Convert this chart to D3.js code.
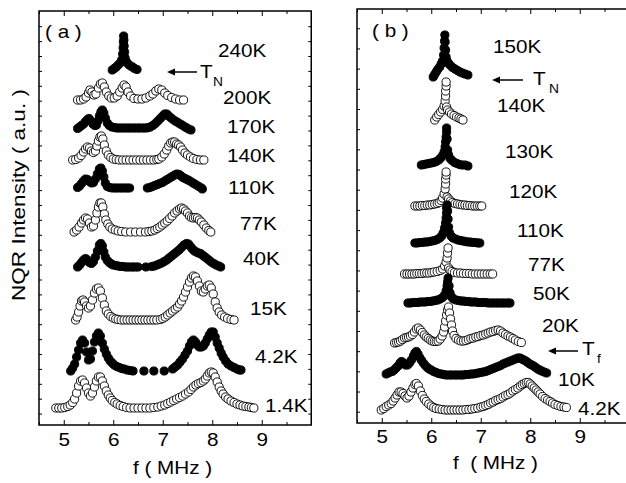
<!DOCTYPE html>
<html>
<head>
<meta charset="utf-8">
<script src="https://d3js.org/d3.v7.min.js"></script>
<style>
  body { margin: 0; background: #fff; }
  text { font-family: "Liberation Sans", Arial, Helvetica, sans-serif; }
</style>
</head>
<body>
<script>
// x tick labels (MHz)
var fTicks = [5, 6, 7, 8, 9];
var fMinor = [4.5, 5.5, 6.5, 7.5, 8.5, 9.5];

// ---- panel (a) spectra: [f (MHz), intensity above its own baseline (a.u.)]
var a240K = [[5.98,0],[6.02,0.15],[6.06,0.3],[6.10,0.5],[6.14,0.7],[6.17,1.0],[6.19,1.6],[6.20,2.2],[6.205,2.8],[6.21,3.4],[6.215,3.0],[6.22,2.4],[6.23,1.8],[6.24,1.2],[6.27,0.8],[6.31,0.55],[6.35,0.4],[6.39,0.3],[6.43,0.15],[6.48,0.05]];
var a200K = [[5.28,0],[5.34,0],[5.40,0.1],[5.45,0.3],[5.50,0.7],[5.53,1.0],[5.57,0.8],[5.61,0.5],[5.65,0.6],[5.70,1.2],[5.74,1.6],[5.78,1.7],[5.82,1.3],[5.86,0.8],[5.91,0.4],[5.96,0.2],[6.02,0.2],[6.08,0.4],[6.13,0.8],[6.18,1.2],[6.22,1.5],[6.26,1.3],[6.30,0.8],[6.35,0.4],[6.42,0.15],[6.50,0.1],[6.58,0.1],[6.66,0.2],[6.74,0.4],[6.80,0.6],[6.86,0.9],[6.92,1.1],[6.98,1.0],[7.04,0.7],[7.10,0.45],[7.18,0.25],[7.26,0.1],[7.34,0],[7.42,0]];
var a170K = [[5.28,0.05],[5.32,0.2],[5.36,0.35],[5.40,0.5],[5.44,0.75],[5.48,0.95],[5.51,1.05],[5.55,0.8],[5.59,0.5],[5.63,0.35],[5.66,0.4],[5.69,0.8],[5.72,1.3],[5.75,1.7],[5.78,1.9],[5.81,1.6],[5.84,1.1],[5.88,0.6],[5.92,0.35],[5.97,0.2],[6.02,0.15],[6.07,0.1],[6.12,0.1],[6.17,0.1],[6.22,0.1],[6.27,0.1],[6.32,0.1],[6.37,0.1],[6.42,0.1],[6.47,0.1],[6.52,0.1],[6.57,0.1],[6.62,0.1],[6.67,0.1],[6.71,0.15],[6.75,0.2],[6.80,0.35],[6.85,0.55],[6.90,0.8],[6.95,1.05],[7.00,1.3],[7.04,1.5],[7.08,1.5],[7.12,1.3],[7.17,1.1],[7.22,0.9],[7.27,0.75],[7.32,0.6],[7.37,0.45],[7.42,0.3],[7.47,0.15],[7.52,0],[7.57,-0.1]];
var a140K = [[5.18,0],[5.24,0.05],[5.30,0.2],[5.35,0.45],[5.40,0.8],[5.44,1.1],[5.48,1.3],[5.52,1.2],[5.56,0.9],[5.60,0.75],[5.64,0.9],[5.67,1.4],[5.70,1.9],[5.73,2.3],[5.76,2.4],[5.79,2.1],[5.82,1.5],[5.86,0.9],[5.90,0.5],[5.95,0.25],[6.00,0.1],[6.06,0.05],[6.12,0],[6.19,0],[6.26,0],[6.33,0],[6.40,0],[6.47,0],[6.54,0],[6.61,0],[6.68,0],[6.75,0],[6.82,0],[6.88,0.05],[6.92,0.1],[6.98,0.3],[7.03,0.6],[7.08,1.0],[7.12,1.4],[7.16,1.7],[7.20,1.8],[7.24,1.8],[7.28,1.6],[7.32,1.5],[7.36,1.3],[7.40,1.0],[7.45,0.7],[7.50,0.5],[7.56,0.3],[7.62,0.15],[7.69,0.05],[7.76,0],[7.83,0]];
var a110K = [[5.28,0.05],[5.32,0.2],[5.36,0.45],[5.40,0.7],[5.44,0.9],[5.48,0.85],[5.52,0.65],[5.56,0.5],[5.60,0.55],[5.64,0.9],[5.68,1.4],[5.72,1.9],[5.75,2.0],[5.78,1.7],[5.81,1.1],[5.84,0.5],[5.88,0.15],[5.93,0.05],[5.98,0],[6.03,0],[6.08,0],[6.13,0],[6.18,0],[6.23,0],[6.28,0],[6.33,0],
  [6.69,0],[6.74,0.05],[6.79,0.15],[6.84,0.25],[6.89,0.35],[6.94,0.45],[6.99,0.55],[7.04,0.7],[7.09,0.85],[7.14,1.0],[7.19,1.15],[7.24,1.3],[7.29,1.4],[7.33,1.35],[7.37,1.2],[7.41,1.05],[7.45,0.95],[7.49,0.85],[7.53,0.75],[7.58,0.6],[7.63,0.45],[7.68,0.3],[7.73,0.15],[7.78,0],[7.80,-0.1]];
var a77K = [[5.21,0],[5.26,0.2],[5.31,0.5],[5.36,0.9],[5.40,1.2],[5.44,1.4],[5.48,1.3],[5.52,0.9],[5.56,0.5],[5.60,0.6],[5.64,1.2],[5.67,1.9],[5.70,2.5],[5.73,2.9],[5.76,2.9],[5.79,2.5],[5.82,1.8],[5.85,1.2],[5.89,0.8],[5.93,0.5],[5.98,0.3],[6.04,0.2],[6.10,0.1],[6.17,0.05],[6.25,0],[6.35,0],[6.45,0],[6.55,0],[6.65,0],[6.72,0.05],[6.78,0.1],[6.84,0.2],[6.89,0.35],[6.94,0.5],[6.99,0.7],[7.04,0.9],[7.09,1.1],[7.14,1.35],[7.19,1.6],[7.24,1.9],[7.29,2.1],[7.34,2.3],[7.38,2.4],[7.42,2.3],[7.46,2.1],[7.50,1.9],[7.54,1.6],[7.58,1.45],[7.62,1.4],[7.66,1.45],[7.70,1.4],[7.74,1.2],[7.78,1.0],[7.83,0.7],[7.88,0.4],[7.93,0.15],[7.97,0]];
var a40K = [[5.28,0],[5.32,0.2],[5.36,0.45],[5.40,0.7],[5.44,0.85],[5.48,0.7],[5.52,0.45],[5.56,0.35],[5.60,0.55],[5.64,1.0],[5.68,1.6],[5.72,2.2],[5.75,2.35],[5.78,2.1],[5.81,1.5],[5.84,1.0],[5.88,0.65],[5.92,0.45],[5.96,0.3],[6.00,0.2],[6.05,0.15],[6.10,0.1],[6.15,0.05],[6.20,0.05],[6.25,0],[6.30,0],[6.35,0],[6.40,0],[6.45,0],[6.50,0],[6.66,0],[6.78,0.05],[6.83,0.1],[6.88,0.2],[6.93,0.3],[6.98,0.4],[7.03,0.55],[7.08,0.7],[7.13,0.9],[7.18,1.1],[7.23,1.3],[7.28,1.5],[7.33,1.7],[7.38,1.95],[7.43,2.2],[7.48,2.35],[7.52,2.3],[7.56,2.05],[7.60,1.8],[7.64,1.6],[7.68,1.5],[7.72,1.4],[7.76,1.35],[7.80,1.2],[7.84,1.05],[7.88,0.9],[7.93,0.7],[7.98,0.5],[8.03,0.35],[8.08,0.2],[8.13,0.1],[8.17,0]];
var a15K = [[5.24,0],[5.27,0.3],[5.30,0.8],[5.33,1.4],[5.36,1.9],[5.39,2.0],[5.42,1.8],[5.46,1.4],[5.50,1.2],[5.54,1.4],[5.58,2.0],[5.62,2.7],[5.66,3.1],[5.70,3.2],[5.74,2.9],[5.78,2.2],[5.82,1.5],[5.86,0.9],[5.90,0.6],[5.95,0.35],[6.00,0.2],[6.05,0.1],[6.10,0.05],[6.16,0],[6.22,0],[6.28,0],[6.34,0],[6.40,0],[6.46,0],[6.52,0],[6.58,0],[6.64,0],[6.70,0],[6.76,0],[6.82,0],[6.88,0],[6.95,0.05],[7.00,0.15],[7.05,0.3],[7.10,0.5],[7.15,0.7],[7.20,0.9],[7.25,1.1],[7.30,1.3],[7.34,1.6],[7.38,1.9],[7.42,2.3],[7.46,2.8],[7.50,3.3],[7.54,3.8],[7.58,4.2],[7.62,4.4],[7.66,4.3],[7.70,3.9],[7.74,3.4],[7.78,2.9],[7.82,2.8],[7.86,3.1],[7.90,3.4],[7.94,3.5],[7.98,3.2],[8.02,2.6],[8.06,1.8],[8.10,1.2],[8.14,0.8],[8.19,0.5],[8.25,0.3],[8.31,0.15],[8.38,0.05],[8.44,0]];
var a4_2K = [[5.14,0],[5.18,0.3],[5.22,0.7],[5.26,1.4],[5.30,2.1],[5.34,2.8],[5.38,3.1],[5.42,2.8],[5.46,1.9],[5.50,1.1],[5.54,1.2],[5.58,2.0],[5.62,2.9],[5.66,3.5],[5.70,3.8],[5.74,3.5],[5.78,2.8],[5.82,2.2],[5.86,1.7],[5.90,1.3],[5.94,1.0],[5.98,0.8],[6.02,0.6],[6.07,0.45],[6.12,0.35],[6.17,0.25],[6.22,0.2],[6.28,0.1],[6.34,0.05],[6.40,0],[6.62,0],[6.82,0],[7.03,0],[7.20,0.2],[7.25,0.4],[7.30,0.6],[7.35,0.9],[7.40,1.2],[7.45,1.6],[7.50,2.0],[7.54,2.5],[7.58,2.9],[7.62,3.1],[7.66,2.9],[7.70,2.6],[7.74,2.4],[7.78,2.4],[7.82,2.5],[7.86,2.8],[7.90,3.2],[7.94,3.6],[7.98,3.9],[8.02,3.9],[8.06,3.4],[8.10,2.8],[8.14,2.3],[8.18,1.8],[8.22,1.4],[8.27,1.0],[8.32,0.7],[8.38,0.5],[8.44,0.35],[8.50,0.2],[8.55,0.1],[8.58,0.1]];
var a1_4K = [[4.84,0],[4.90,0],[4.96,0],[5.02,0.05],[5.08,0.15],[5.13,0.3],[5.18,0.55],[5.22,0.9],[5.26,1.5],[5.30,2.2],[5.34,2.7],[5.38,2.8],[5.42,2.5],[5.46,2.0],[5.50,1.5],[5.54,1.2],[5.58,1.5],[5.62,2.1],[5.66,2.7],[5.70,3.1],[5.74,3.1],[5.78,2.7],[5.82,2.2],[5.86,1.7],[5.90,1.3],[5.94,1.0],[5.98,0.75],[6.03,0.55],[6.08,0.4],[6.14,0.25],[6.20,0.15],[6.27,0.05],[6.34,0],[6.42,0],[6.50,0],[6.58,0],[6.66,0],[6.74,0],[6.82,0.05],[6.90,0.1],[6.97,0.2],[7.04,0.3],[7.10,0.45],[7.16,0.6],[7.22,0.75],[7.28,0.9],[7.34,1.05],[7.40,1.2],[7.46,1.4],[7.52,1.6],[7.57,1.85],[7.62,2.1],[7.67,2.3],[7.72,2.45],[7.77,2.55],[7.82,2.7],[7.86,2.9],[7.90,3.2],[7.94,3.5],[7.98,3.6],[8.02,3.5],[8.06,3.1],[8.10,2.6],[8.14,2.1],[8.18,1.7],[8.22,1.4],[8.27,1.1],[8.32,0.9],[8.38,0.7],[8.44,0.55],[8.50,0.4],[8.56,0.3],[8.62,0.2],[8.68,0.15],[8.74,0.1],[8.79,0.05],[8.84,0]];

// ---- panel (b) spectra
var b150K = [[6.04,0],[6.07,0.25],[6.10,0.5],[6.13,0.75],[6.17,1.0],[6.20,1.3],[6.23,1.6],[6.25,2.2],[6.26,2.9],[6.27,3.6],[6.275,4.2],[6.28,3.5],[6.29,2.7],[6.30,2.0],[6.32,1.6],[6.35,1.35],[6.39,1.15],[6.43,0.95],[6.48,0.8],[6.53,0.65],[6.58,0.5],[6.63,0.4],[6.68,0.3],[6.74,0.2]];
var b140K = [[6.07,0],[6.11,0.3],[6.15,0.55],[6.19,0.8],[6.23,1.05],[6.26,1.4],[6.28,1.9],[6.29,2.4],[6.29,2.9],[6.30,3.4],[6.30,3.8],[6.31,1.3],[6.33,1.0],[6.37,0.8],[6.41,0.6],[6.46,0.45],[6.51,0.3],[6.56,0.2],[6.60,0.1],[6.64,0]];
var b130K = [[5.80,0],[5.85,0.05],[5.90,0.1],[5.95,0.15],[6.00,0.2],[6.05,0.25],[6.10,0.35],[6.15,0.5],[6.19,0.7],[6.23,0.95],[6.26,1.3],[6.28,1.8],[6.29,2.3],[6.30,2.8],[6.31,3.3],[6.31,3.7],[6.32,2.6],[6.33,1.5],[6.35,1.0],[6.38,0.65],[6.42,0.45],[6.47,0.25],[6.52,0.15],[6.57,0.05],[6.62,0],[6.68,0],[6.74,-0.1]];
var b120K = [[5.67,0],[5.72,0],[5.77,0],[5.82,0.05],[5.87,0.05],[5.92,0.1],[5.97,0.1],[6.02,0.15],[6.07,0.2],[6.12,0.25],[6.16,0.35],[6.20,0.55],[6.23,0.8],[6.26,1.2],[6.28,1.7],[6.29,2.2],[6.29,2.7],[6.30,3.1],[6.30,3.4],[6.32,0.9],[6.35,0.7],[6.39,0.5],[6.43,0.35],[6.48,0.25],[6.53,0.2],[6.58,0.15],[6.63,0.1],[6.68,0.1],[6.73,0.05],[6.78,0.05],[6.83,0],[6.88,0],[6.93,0],[6.98,0],[7.02,0]];
var b110K = [[5.67,0],[5.72,0],[5.77,0.05],[5.82,0.05],[5.87,0.1],[5.92,0.1],[5.97,0.15],[6.02,0.2],[6.07,0.25],[6.12,0.35],[6.17,0.5],[6.21,0.7],[6.24,1.0],[6.27,1.5],[6.29,2.0],[6.30,2.5],[6.31,3.0],[6.31,3.5],[6.32,3.8],[6.33,3.2],[6.34,2.4],[6.35,1.6],[6.37,1.0],[6.40,0.7],[6.44,0.5],[6.49,0.4],[6.54,0.3],[6.59,0.25],[6.64,0.2],[6.69,0.15],[6.74,0.1],[6.79,0.1],[6.84,0.05],[6.89,0.05],[6.94,0],[6.98,0]];
var b77K = [[5.46,0],[5.51,0],[5.56,0],[5.61,0],[5.66,0],[5.71,0.05],[5.76,0.05],[5.81,0.05],[5.86,0.1],[5.91,0.1],[5.96,0.1],[6.01,0.15],[6.06,0.2],[6.12,0.25],[6.18,0.35],[6.23,0.5],[6.27,0.8],[6.30,1.2],[6.32,1.6],[6.33,2.1],[6.34,2.6],[6.35,0.6],[6.38,0.4],[6.42,0.25],[6.47,0.15],[6.53,0.1],[6.59,0.1],[6.65,0.05],[6.71,0.05],[6.77,0.05],[6.83,0],[6.89,0],[6.95,0],[7.01,0],[7.07,0],[7.13,0],[7.19,0],[7.24,0]];
var b50K = [[5.53,0],[5.58,0],[5.63,0.05],[5.68,0.05],[5.73,0.05],[5.78,0.1],[5.83,0.1],[5.88,0.1],[5.93,0.15],[5.98,0.15],[6.03,0.2],[6.08,0.25],[6.13,0.3],[6.18,0.4],[6.23,0.55],[6.27,0.8],[6.30,1.2],[6.32,1.7],[6.33,2.1],[6.34,2.5],[6.36,1.7],[6.38,1.0],[6.41,0.6],[6.45,0.4],[6.50,0.3],[6.55,0.25],[6.60,0.2],[6.65,0.2],[6.70,0.15],[6.75,0.15],[6.80,0.1],[6.85,0.1],[6.90,0.1],[6.95,0.05],[7.00,0.05],[7.05,0.05],[7.10,0.05],[7.15,0],[7.20,0],[7.25,0],[7.30,0],[7.35,0],[7.40,0],[7.45,0],[7.50,0],[7.55,0],[7.59,0]];
var b20K = [[5.26,0],[5.30,0.05],[5.34,0.1],[5.38,0.2],[5.42,0.35],[5.46,0.5],[5.50,0.55],[5.54,0.6],[5.58,0.7],[5.62,0.85],[5.66,1.1],[5.70,1.4],[5.74,1.5],[5.78,1.3],[5.82,1.05],[5.86,0.8],[5.90,0.6],[5.94,0.45],[5.98,0.3],[6.02,0.2],[6.06,0.15],[6.10,0.15],[6.14,0.2],[6.18,0.4],[6.22,0.7],[6.25,1.1],[6.27,1.6],[6.29,2.2],[6.31,2.8],[6.33,3.3],[6.35,3.6],[6.37,3.0],[6.39,2.4],[6.41,1.8],[6.43,1.2],[6.46,0.75],[6.50,0.45],[6.55,0.3],[6.60,0.2],[6.65,0.2],[6.70,0.25],[6.75,0.35],[6.80,0.45],[6.85,0.5],[6.90,0.6],[6.95,0.65],[7.00,0.75],[7.05,0.8],[7.10,0.9],[7.15,1.0],[7.20,1.1],[7.25,1.15],[7.30,1.25],[7.35,1.3],[7.40,1.2],[7.45,1.0],[7.50,0.85],[7.55,0.7],[7.60,0.6],[7.65,0.45],[7.70,0.3],[7.76,0.15],[7.82,0.05]];
var b10K = [[5.09,0.1],[5.13,0.2],[5.17,0.3],[5.21,0.35],[5.25,0.5],[5.29,0.7],[5.33,0.9],[5.37,1.2],[5.40,1.35],[5.44,1.2],[5.48,1.0],[5.52,1.0],[5.56,1.2],[5.60,1.5],[5.64,1.9],[5.67,2.2],[5.70,2.35],[5.73,2.1],[5.76,1.8],[5.80,1.5],[5.84,1.2],[5.88,0.95],[5.92,0.75],[5.96,0.6],[6.00,0.5],[6.05,0.35],[6.10,0.25],[6.15,0.15],[6.20,0.1],[6.25,0.05],[6.30,0],[6.35,0],[6.40,0],[6.45,0],[6.50,0],[6.55,0],[6.60,0],[6.65,0],[6.70,0.05],[6.75,0.05],[6.80,0.1],[6.85,0.1],[6.90,0.15],[6.95,0.2],[7.00,0.25],[7.05,0.3],[7.10,0.35],[7.15,0.45],[7.20,0.55],[7.25,0.65],[7.30,0.75],[7.35,0.85],[7.40,0.95],[7.45,1.1],[7.50,1.2],[7.55,1.3],[7.60,1.4],[7.65,1.5],[7.70,1.6],[7.75,1.7],[7.79,1.7],[7.83,1.6],[7.87,1.5],[7.91,1.4],[7.95,1.25],[7.99,1.1],[8.03,1.0],[8.07,0.9],[8.11,0.75],[8.15,0.6],[8.19,0.5],[8.23,0.4],[8.28,0.3],[8.33,0.2]];
var b4_2K = [[4.99,0],[5.04,0.15],[5.09,0.35],[5.14,0.5],[5.19,0.65],[5.23,0.9],[5.27,1.2],[5.31,1.5],[5.35,1.8],[5.39,1.8],[5.43,1.65],[5.47,1.4],[5.51,1.2],[5.55,1.4],[5.59,1.8],[5.63,2.2],[5.67,2.55],[5.70,2.65],[5.74,2.4],[5.78,1.9],[5.82,1.45],[5.86,1.1],[5.90,0.85],[5.95,0.6],[6.00,0.4],[6.05,0.25],[6.10,0.15],[6.16,0.1],[6.22,0.05],[6.28,0],[6.34,0],[6.40,0],[6.46,0],[6.52,0],[6.58,0],[6.64,0],[6.70,0.05],[6.76,0.05],[6.82,0.1],[6.88,0.15],[6.94,0.2],[7.00,0.3],[7.05,0.35],[7.10,0.45],[7.15,0.55],[7.20,0.7],[7.25,0.8],[7.30,0.95],[7.35,1.05],[7.40,1.15],[7.45,1.3],[7.50,1.45],[7.55,1.55],[7.60,1.7],[7.65,1.9],[7.70,2.05],[7.75,2.2],[7.80,2.4],[7.84,2.55],[7.88,2.65],[7.92,2.75],[7.96,2.75],[8.00,2.6],[8.04,2.4],[8.08,2.2],[8.12,2.0],[8.16,1.8],[8.20,1.6],[8.25,1.35],[8.30,1.15],[8.35,1.0],[8.40,0.85],[8.45,0.7],[8.50,0.55],[8.56,0.45],[8.62,0.35],[8.68,0.3],[8.73,0.25]];

// temperatures, baseline offsets (a.u.), marker type
var tempsA = ['240K', '200K', '170K', '140K', '110K', '77K', '40K', '15K', '4.2K', '1.4K'];
var offsetsA = [35.5, 32.5, 29.6, 26.5, 23.7, 19.3, 15.8, 10.5, 5.4, 1.7];
var filledA = [true, false, true, false, true, false, true, false, true, false];
var spectraA = [a240K, a200K, a170K, a140K, a110K, a77K, a40K, a15K, a4_2K, a1_4K];

var tempsB = ['150K', '140K', '130K', '120K', '110K', '77K', '50K', '20K', '10K', '4.2K'];
var offsetsB = [34.6, 30.3, 25.8, 21.7, 18.0, 14.9, 12.0, 8.0, 4.8, 1.3];
var filledB = [true, false, true, false, true, false, true, false, true, false];
var spectraB = [b150K, b140K, b130K, b120K, b110K, b77K, b50K, b20K, b10K, b4_2K];

var width = 626,
    height = 483,
    stretch = 1.15;

var svg = d3.select('body')
    .append('svg')
    .attr('width', width)
    .attr('height', height);

function label(x, y, str, size) {
    return svg.append('text')
        .attr('transform', 'translate(' + x + ',' + y + ') scale(' + stretch + ',1)')
        .style('font-size', (size || 18) + 'px')
        .text(str);
}

function arrow(x1, x2, y) {
    svg.append('line')
        .attr('x1', x1 + 5).attr('x2', x2)
        .attr('y1', y).attr('y2', y)
        .attr('stroke', '#000').attr('stroke-width', 1.5);
    svg.append('path')
        .attr('d', 'M' + x1 + ',' + y + 'l8,-3.5l0,7z')
        .attr('fill', '#000');
}

function drawPanel(p) {
    var x = d3.scaleLinear().domain([4.5, 10]).range([p.left, p.left + 272.25]);
    var y = d3.scaleLinear().domain([0, 41.4]).range([p.bottom, p.top]);
    var g = svg.append('g');

    g.append('rect')
        .attr('x', p.left).attr('y', p.top)
        .attr('width', 272.25).attr('height', p.bottom - p.top)
        .attr('fill', 'none').attr('stroke', '#000').attr('stroke-width', 1.5);

    function axis(a, tr, ticks, size, fmt) {
        var ax = g.append('g')
            .attr('transform', tr)
            .call(a.tickValues(ticks).tickSize(size).tickFormat(fmt || ''));
        ax.select('.domain').remove();
        ax.selectAll('line').attr('stroke-width', 1);
        return ax;
    }

    var bottom = axis(d3.axisBottom(x), 'translate(0,' + p.bottom + ')', fTicks, -5, d3.format('d'));
    bottom.attr('font-size', null).attr('font-family', null);
    bottom.selectAll('text')
        .attr('y', null).attr('dy', null)
        .attr('transform', 'translate(0,' + p.tickDy + ') scale(' + stretch + ',1)')
        .style('font-size', '18px');
    axis(d3.axisBottom(x), 'translate(0,' + p.bottom + ')', fMinor, -3);
    axis(d3.axisTop(x), 'translate(0,' + p.top + ')', fTicks, -5);
    axis(d3.axisTop(x), 'translate(0,' + p.top + ')', fMinor, -3);

    var yTicks = d3.range(p.nTicks).map(function (k) { return p.tick0 + p.tickStep * k; });
    axis(d3.axisLeft(y), 'translate(' + p.left + ',0)', yTicks, -3);
    axis(d3.axisRight(y), 'translate(' + (p.left + 272.25) + ',0)', yTicks, -3);

    p.spectra.forEach(function (pts, i) {
        g.append('g')
            .selectAll('circle')
            .data(pts)
            .enter()
            .append('circle')
            .attr('cx', function (d) { return x(d[0]); })
            .attr('cy', function (d) { return y(p.offsets[i] + d[1]); })
            .attr('r', 4.1)
            .attr('fill', p.filled[i] ? '#000' : '#fff')
            .attr('stroke', '#000')
            .attr('stroke-width', 0.9);
    });

    p.temps.forEach(function (t, i) {
        label(p.labelPos[i][0], p.labelPos[i][1], t);
    });
}

drawPanel({
    left: 39, top: 11, bottom: 425, tickDy: 21,
    nTicks: 27, tick0: 1.14, tickStep: 1.49,
    spectra: spectraA, offsets: offsetsA, filled: filledA, temps: tempsA,
    labelPos: [[218, 57], [223, 104], [227, 133], [227, 162], [228, 194], [240, 230], [243, 265], [250, 315], [255, 363], [265, 412]]
});

drawPanel({
    left: 357, top: 9, bottom: 423, tickDy: 20,
    nTicks: 20, tick0: 1.13, tickStep: 2.018,
    spectra: spectraB, offsets: offsetsB, filled: filledB, temps: tempsB,
    labelPos: [[493, 53], [497, 112], [505, 158], [509, 198], [517, 237], [528, 271], [533, 300], [542, 332], [558, 386], [578, 415]]
});

// panel tags, transition markers, axis titles
label(45, 38, '( a )');
label(372, 37, '( b )');

arrow(167, 197, 72);
label(200, 78, 'T');
label(213, 86, 'N', 12);

arrow(492, 523, 80);
label(533, 85, 'T');
label(549, 93, 'N', 12);

arrow(548, 578, 351);
label(582, 355, 'T');
label(597, 363, 'f', 12);

label(133, 474, 'f ( MHz )');
label(453, 469, 'f  ( MHz )').style('white-space', 'pre');

svg.append('text')
    .attr('transform', 'translate(25,195) rotate(-90)')
    .attr('text-anchor', 'middle')
    .attr('textLength', 212)
    .attr('lengthAdjust', 'spacingAndGlyphs')
    .style('font-size', '18px')
    .text('NQR Intensity ( a.u. )');
</script>
</body>
</html>
